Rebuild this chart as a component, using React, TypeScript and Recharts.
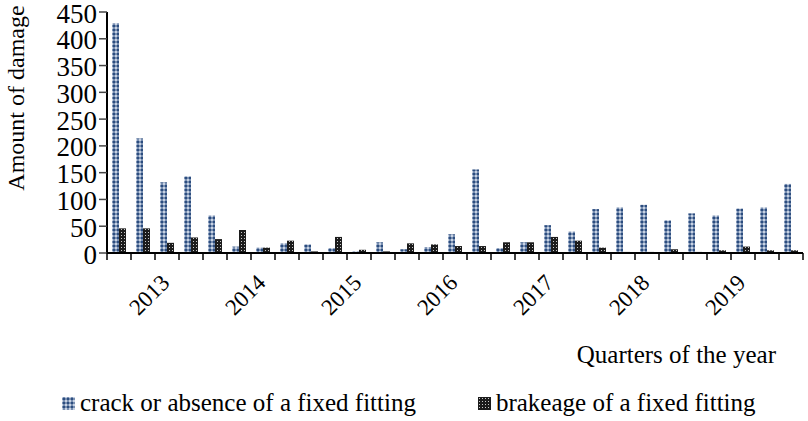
import { Bar, BarChart, Legend, XAxis, YAxis } from "recharts";

const quarters = [
  "1", "2", "3", "4", "5", "6", "7", "8", "9", "10",
  "11", "12", "13", "14", "15", "16", "17", "18", "19", "20",
  "21", "22", "23", "24", "25", "26", "27", "28", "29",
];

const yearLabels = [
  "", "", "2013", "", "", "", "2014", "", "", "",
  "2015", "", "", "", "2016", "", "", "", "2017", "",
  "", "", "2018", "", "", "", "2019", "", "",
];

const crackValues = [
  429, 214, 132, 143, 70, 12, 10, 18, 16, 9,
  3, 20, 7, 11, 35, 156, 9, 20, 52, 40,
  82, 85, 90, 61, 74, 70, 83, 85, 129,
];

const brakeageValues = [
  46, 46, 19, 29, 26, 43, 10, 23, 3, 30,
  6, 3, 18, 16, 13, 13, 20, 20, 30, 23,
  10, 2, 2, 7, 2, 5, 12, 5, 5,
];

const yTicks = [0, 50, 100, 150, 200, 250, 300, 350, 400, 450];

const W = 808;
const H = 421;
const LEFT = 107;
const RIGHT = 5;
const HALF_BAND = (W - LEFT - RIGHT) / quarters.length / 2;
const FONT = "Liberation Serif, DejaVu Serif, serif";

const rows = quarters.map((q, i) => ({
  quarter: q,
  crack: crackValues[i],
  brakeage: brakeageValues[i],
}));

function QuarterTick(props: any) {
  const { x, y, index } = props;
  const label = yearLabels[index];
  const last = index === quarters.length - 1;
  return (
    <g>
      <line x1={x - HALF_BAND} x2={x - HALF_BAND} y1={y - 7} y2={y} stroke="#000" strokeWidth={1.5} />
      {last && (
        <line x1={x + HALF_BAND} x2={x + HALF_BAND} y1={y - 7} y2={y} stroke="#000" strokeWidth={1.5} />
      )}
      {label && (
        <text
          x={x + 4}
          y={y + 24}
          textAnchor="end"
          transform={`rotate(-45, ${x + 4}, ${y + 24})`}
          style={{ fontFamily: FONT, fontSize: 23 }}
          fill="#000"
        >
          {label}
        </text>
      )}
    </g>
  );
}

function LegendBox() {
  const item = (fill: string, text: string) => (
    <span style={{ display: "inline-flex", alignItems: "center", gap: 5 }}>
      <svg width={13} height={13}>
        <rect x={0} y={0} width={13} height={13} fill={fill} />
      </svg>
      <span>{text}</span>
    </span>
  );
  return (
    <div
      style={{
        height: 30,
        display: "flex",
        gap: 62,
        paddingLeft: 62,
        alignItems: "center",
        fontFamily: FONT,
        fontSize: 25,
        color: "#000",
      }}
    >
      {item("url(#crackPat)", "crack or absence of a fixed fitting")}
      {item("url(#brakePat)", "brakeage of a fixed fitting")}
    </div>
  );
}

export default function App() {
  return (
    <div style={{ position: "absolute", left: 0, top: 0, width: W, height: H, background: "#fff", fontFamily: FONT }}>
      <BarChart
        width={W}
        height={H}
        data={rows}
        margin={{ top: 12, right: RIGHT, left: 0, bottom: 3 }}
        barGap={0}
        barSize={7}
      >
        <defs>
          <pattern id="crackPat" width={4} height={4} patternUnits="userSpaceOnUse">
            <rect width={4} height={4} fill="#c7d2e3" />
            <rect x={1.5} y={0} width={1} height={4} fill="#2c4d7f" />
            <rect x={0} y={1.5} width={4} height={1} fill="#2c4d7f" />
            <rect x={1} y={1} width={2} height={2} fill="#2c4d7f" />
          </pattern>
          <pattern id="brakePat" width={3} height={3} patternUnits="userSpaceOnUse">
            <rect width={3} height={3} fill="#1c1c1c" />
            <rect x={1} y={1} width={1} height={1} fill="#c8c8c8" />
          </pattern>
        </defs>
        <XAxis
          dataKey="quarter"
          height={135}
          tickLine={false}
          tickSize={7}
          tickMargin={0}
          axisLine={{ stroke: "#000", strokeWidth: 2 }}
          interval={0}
          tick={<QuarterTick />}
          label={(p: any) => (
            <text
              x={776}
              y={p.viewBox.y + 110}
              textAnchor="end"
              style={{ fontFamily: FONT, fontSize: 25 }}
              fill="#000"
            >
              Quarters of the year
            </text>
          )}
        />
        <YAxis
          width={LEFT}
          domain={[0, 450]}
          ticks={yTicks}
          interval={0}
          tickSize={8}
          tickMargin={2}
          axisLine={{ stroke: "#000", strokeWidth: 2 }}
          tickLine={{ stroke: "#444", strokeWidth: 1.5 }}
          tick={{ fill: "#000", fontFamily: FONT, fontSize: 27, dy: 1 }}
          label={(p: any) => (
            <text
              x={p.viewBox.x + 24}
              y={p.viewBox.y + 86}
              textAnchor="middle"
              transform={`rotate(-90, ${p.viewBox.x + 24}, ${p.viewBox.y + 86})`}
              style={{ fontFamily: FONT, fontSize: 24 }}
              fill="#000"
            >
              Amount of damage
            </text>
          )}
        />
        <Legend verticalAlign="bottom" align="left" content={<LegendBox />} wrapperStyle={{ left: 0, width: W }} />
        <Bar dataKey="crack" fill="url(#crackPat)" isAnimationActive={false} />
        <Bar dataKey="brakeage" fill="url(#brakePat)" isAnimationActive={false} />
      </BarChart>
    </div>
  );
}
